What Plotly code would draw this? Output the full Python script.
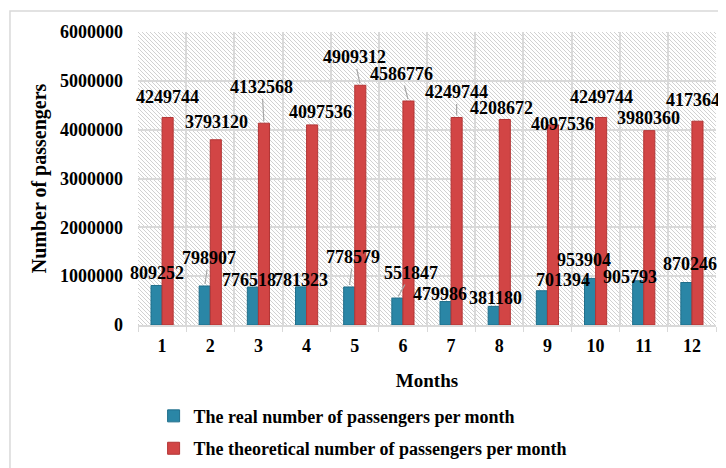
import base64
import plotly.graph_objects as go

months = [1, 2, 3, 4, 5, 6, 7, 8, 9, 10, 11, 12]
real = [809252, 798907, 776518, 781323, 778579, 551847, 479986, 381180, 701394, 953904, 905793, 870246]
theoretical = [4249744, 3793120, 4132568, 4097536, 4909312, 4586776, 4249744, 4208672, 4097536, 4249744, 3980360, 4173640]
tick_labels = [str(m) for m in months]
name_real = "The real number of passengers per month"
name_theo = "The theoretical number of passengers per month"

# label placement (pixel offsets from bar top, leader line flag) - styling only
real_lbl = [(0, -12, 0), (4, -28, 1), (-4, -7, 0), (0, -7, 0), (4, -30, 1), (14, -25, 1),
            (-6, -8, 0), (2, -8, 0), (21, -11, 0), (-6, -18, 0), (-8, -4, 0), (4, -19, 0)]
theo_lbl = [(0, -20, 0), (1, -18, 0), (-2, -36, 1), (8, -13, 0), (-6, -28, 1), (-7, -27, 1),
            (0, -25, 1), (-3, -11, 0), (10, -1, 0), (0, -20, 0), (-1, -13, 0), (0, -21, 0)]

FONT = "Liberation Serif"
BW = 0.23
BLUE, BLUE_E = "#2A86A6", "#1F6E8A"
RED, RED_E = "#D24545", "#B33535"

fig = go.Figure()
fig.add_trace(go.Bar(x=months, y=real, name=name_real, width=BW, offset=-BW,
                     marker=dict(color=BLUE, line=dict(color=BLUE_E, width=1)),
                     legendgroup="a"))
fig.add_trace(go.Bar(x=months, y=theoretical, name=name_theo, width=BW, offset=0,
                     marker=dict(color=RED, line=dict(color=RED_E, width=1)),
                     legendgroup="b"))

ann = []
for vals, lbls, off in ((real, real_lbl, -BW / 2), (theoretical, theo_lbl, BW / 2)):
    for m, v, (dx, dy, arrow) in zip(months, vals, lbls):
        base = dict(x=m + off, y=v, text=str(v),
                    font=dict(family=FONT, size=18, color="black", weight="bold"))
        if arrow:
            base.update(showarrow=True, ax=dx, ay=dy, arrowhead=0, arrowwidth=1.2,
                        arrowcolor="#a6a6a6", standoff=2)
        else:
            base.update(showarrow=False, xshift=dx, yshift=-dy)
        ann.append(base)

# hatch background
W, H = 578, 293
svg = (f'<svg xmlns="http://www.w3.org/2000/svg" width="{W}" height="{H}" viewBox="0 0 {W} {H}" preserveAspectRatio="none">'
       '<defs><pattern id="p" width="4" height="4" patternUnits="userSpaceOnUse">'
       '<path d="M0,0 L4,4 M-1,3 L1,5 M3,-1 L5,1" stroke="#cccccc" stroke-width="0.9"/></pattern></defs>'
       f'<rect width="{W}" height="{H}" fill="white"/><rect width="{W}" height="{H}" fill="url(#p)"/></svg>')
src = "data:image/svg+xml;base64," + base64.b64encode(svg.encode()).decode()

fig.update_layout(
    width=726, height=468,
    margin=dict(l=130, r=18, t=24, b=151, autoexpand=False),
    paper_bgcolor="white", plot_bgcolor="rgba(0,0,0,0)",
    font=dict(family=FONT, color="black"),
    barmode="overlay",
    annotations=ann,
    images=[dict(source=src, xref="paper", yref="paper", x=0, y=1, sizex=1, sizey=1,
                 sizing="stretch", layer="below")],
    shapes=[dict(type="rect", xref="paper", yref="paper", x0=-0.2215, x1=1.1, y0=-0.6, y1=1.0717,
                 line=dict(color="#d9d9d9", width=1.5), fillcolor="rgba(0,0,0,0)", layer="below")],
    legend=dict(x=0.027, y=-0.248, xanchor="left", yanchor="top", traceorder="grouped",
                tracegroupgap=6, font=dict(family=FONT, size=18, weight="bold"),
                bgcolor="rgba(0,0,0,0)"),
    showlegend=True,
)
fig.update_xaxes(range=[0.5, 12.5], tickvals=months, ticktext=tick_labels, showgrid=False,
                 automargin=False,
                 tickfont=dict(family=FONT, size=18, weight="bold"), ticks="", ticklabelstandoff=4,
                 showline=True, linecolor="#d9d9d9", linewidth=1.5,
                 minor=dict(tick0=0.5, dtick=1, showgrid=True, gridcolor="#d9d9d9", gridwidth=1.5,
                            ticks="outside", ticklen=5, tickcolor="#d9d9d9"),
                 title=dict(text="Months", font=dict(family=FONT, size=19, weight="bold"), standoff=18),
                 zeroline=False)
fig.update_yaxes(range=[0, 6000000], dtick=1000000, tickformat="d", showgrid=True,
                 automargin=False,
                 gridcolor="#d9d9d9", gridwidth=1.5, zeroline=False,
                 tickfont=dict(family=FONT, size=18, weight="bold"), ticklabelstandoff=14,
                 title=dict(text="Number of passengers", font=dict(family=FONT, size=20, weight="bold"),
                            standoff=8))

fig.write_html("out.html")
